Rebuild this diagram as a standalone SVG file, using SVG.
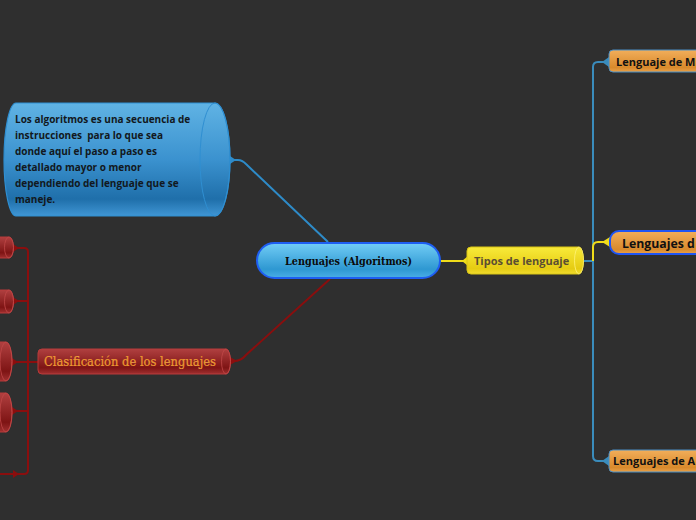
<svg xmlns="http://www.w3.org/2000/svg" width="696" height="520" viewBox="0 0 696 520">
<defs>
<linearGradient id="gBlueCyl" x1="0" y1="0" x2="0" y2="1">
<stop offset="0" stop-color="#60b3e4"/><stop offset="0.5" stop-color="#3b92cf"/><stop offset="0.85" stop-color="#1f6faa"/><stop offset="1" stop-color="#4096d4"/>
</linearGradient>
<linearGradient id="gCentral" x1="0" y1="0" x2="0" y2="1">
<stop offset="0" stop-color="#72cdf6"/><stop offset="0.75" stop-color="#2e98d2"/><stop offset="1" stop-color="#4aaee6"/>
</linearGradient>
<linearGradient id="gYellow" x1="0" y1="0" x2="0" y2="1">
<stop offset="0" stop-color="#f8ea3a"/><stop offset="0.8" stop-color="#e6cc12"/><stop offset="1" stop-color="#f0dc30"/>
</linearGradient>
<linearGradient id="gOrange" x1="0" y1="0" x2="0" y2="1">
<stop offset="0" stop-color="#f2ae5a"/><stop offset="0.8" stop-color="#d98a2c"/><stop offset="1" stop-color="#e9a24a"/>
</linearGradient>
<linearGradient id="gRed" x1="0" y1="0" x2="0" y2="1">
<stop offset="0" stop-color="#b04040"/><stop offset="0.75" stop-color="#7e1414"/><stop offset="1" stop-color="#a03030"/>
</linearGradient>
<style>
.bg{fill:#2f2f2f}
.sans{font-family:"Open Sans","Noto Sans","DejaVu Sans",sans-serif;font-weight:bold}
.serif{font-family:"DejaVu Serif","Liberation Serif",serif}
.cylText{font-size:10px;fill:#121820}
.orangeNode{fill:url(#gOrange);stroke:#4b8fc6;stroke-width:1}
.orangeText{font-size:11px;fill:#111}
.redNode{fill:url(#gRed);stroke:#b83a3a;stroke-width:1}
.redFace{fill:none;stroke:#c04848;stroke-width:0.8}
.cBlue{fill:none;stroke:#2e8bc8;stroke-width:2}
.cTrunk{fill:none;stroke:#3a8cbc;stroke-width:2}
.cRed{fill:none;stroke:#8a0e0e;stroke-width:2}
.cYellow{fill:none;stroke:#f0dc1a;stroke-width:2}
.aBlue{fill:#2e8bc8}
.aTrunk{fill:#3a8cbc}
.aRed{fill:#8a0e0e}
.aYellow{fill:#f0dc1a}
</style>
</defs>
<rect class="bg" x="0" y="0" width="696" height="520"/>

<g id="connectors">
<path class="cBlue" d="M231,160 L238,160 Q242,160 246,164 L328,242"/>
<polygon class="aBlue" points="230,156 236,160 230,164"/>
<path class="cRed" d="M330,279 L246,355 Q241,361 234,361 L231,361"/>
<polygon class="aRed" points="230,357 237,361 230,365"/>
<path class="cYellow" d="M441,261 L466,261"/>
<polygon class="aYellow" points="468,256 462,261 468,266"/>
<path class="cTrunk" d="M584,261 L593,261"/>
<path class="cTrunk" d="M605,62 L598,62 Q593,62 593,67 L593,456 Q593,461 598,461 L605,461"/>
<polygon class="aTrunk" points="609,57 602,62 609,67"/>
<polygon class="aTrunk" points="609,456 602,461 609,466"/>
<path class="cYellow" d="M593,261 L593,247 Q593,242 598,242 L605,242"/>
<polygon class="aYellow" points="610,237 602,242 610,247"/>
<path class="cRed" d="M14,248 L24,248 Q28,248 28,252 L28,470 Q28,474 24,474 L0,474"/>
<path class="cRed" d="M28,301 L14,301"/>
<path class="cRed" d="M38,362 L13,362"/>
<path class="cRed" d="M28,411 L13,411"/>
<polygon class="aRed" points="13,244 19,248 13,252"/>
<polygon class="aRed" points="13,297 19,301 13,305"/>
<polygon class="aRed" points="12,358 18,362 12,366"/>
<polygon class="aRed" points="12,407 18,411 12,415"/>
<polygon class="aRed" points="13,470 19,474 13,478"/>
</g>

<g id="node-descripcion">
<path d="M16,103 L215,103 A15,56.5 0 0 1 215,216 L16,216 A12,56.5 0 0 1 16,103 Z" fill="url(#gBlueCyl)" stroke="#2f8fd2" stroke-width="1.2"/>
<ellipse cx="215" cy="159.5" rx="15" ry="56.5" fill="none" stroke="#2f8fd2" stroke-width="1"/>
<text class="sans cylText" x="15" y="123">Los algoritmos es una secuencia de</text>
<text class="sans cylText" x="15" y="139" xml:space="preserve">instrucciones  para lo que sea</text>
<text class="sans cylText" x="15" y="155">donde aquí el paso a paso es</text>
<text class="sans cylText" x="15" y="171">detallado mayor o menor</text>
<text class="sans cylText" x="15" y="187">dependiendo del lenguaje que se</text>
<text class="sans cylText" x="15" y="203">maneje.</text>
</g>

<g id="node-central">
<rect x="257" y="243" width="183" height="35" rx="17.5" fill="url(#gCentral)" stroke="#1e5ef2" stroke-width="2"/>
<text class="serif" x="285" y="265" font-size="11.5" font-weight="bold" fill="#0a0a0a" textLength="127" lengthAdjust="spacingAndGlyphs">Lenguajes (Algoritmos)</text>
</g>

<g id="node-tipos">
<path d="M471,247 L579,247 A4.5,13.5 0 0 1 579,274 L471,274 Q467,274 467,270 L467,251 Q467,247 471,247 Z" fill="url(#gYellow)" stroke="#d8c414" stroke-width="1"/>
<ellipse cx="579" cy="260.5" rx="4.5" ry="13.5" fill="none" stroke="#fff27a" stroke-width="0.8"/>
<text class="sans" x="474" y="265" font-size="11" fill="#5b4e32">Tipos de lenguaje</text>
</g>

<g id="node-clasificacion">
<path d="M42,349 L226,349 A4.5,12.5 0 0 1 226,374 L42,374 Q38,374 38,370 L38,353 Q38,349 42,349 Z" class="redNode"/>
<ellipse cx="226" cy="361.5" rx="4.5" ry="12.5" class="redFace"/>
<text class="serif" x="44" y="365.5" font-size="12" fill="#ec9420" stroke="#f4b060" stroke-width="0.2" textLength="172" lengthAdjust="spacingAndGlyphs">Clasificación de los lenguajes</text>
</g>

<g id="node-left-1">
<path d="M-20,237 L9,237 A4.5,10.5 0 0 1 9,258 L-20,258 Z" class="redNode"/>
<ellipse cx="9" cy="247.5" rx="4.5" ry="10.5" class="redFace"/>
</g>
<g id="node-left-2">
<path d="M-20,290 L9,290 A4.5,11.5 0 0 1 9,313 L-20,313 Z" class="redNode"/>
<ellipse cx="9" cy="301.5" rx="4.5" ry="11.5" class="redFace"/>
</g>
<g id="node-left-3">
<path d="M-20,342 L6,342 A6,19.5 0 0 1 6,381 L-20,381 Z" class="redNode"/>
<ellipse cx="6" cy="361.5" rx="6" ry="19.5" class="redFace"/>
</g>
<g id="node-left-4">
<path d="M-20,393 L6,393 A6,19.5 0 0 1 6,432 L-20,432 Z" class="redNode"/>
<ellipse cx="6" cy="412.5" rx="6" ry="19.5" class="redFace"/>
</g>

<g id="node-maquina">
<rect x="609" y="50" width="120" height="22" rx="4" class="orangeNode"/>
<text class="sans orangeText" x="616" y="66" font-size="11.3">Lenguaje de M</text>
</g>
<g id="node-medio">
<rect x="610" y="231" width="120" height="23" rx="9" fill="url(#gOrange)" stroke="#1e55f5" stroke-width="2"/>
<text class="sans" x="622" y="247.5" font-size="12.3" fill="#111">Lenguajes d</text>
</g>
<g id="node-alto">
<rect x="609" y="450" width="120" height="22" rx="4" class="orangeNode"/>
<text class="sans orangeText" x="613" y="465">Lenguajes de A</text>
</g>
</svg>
